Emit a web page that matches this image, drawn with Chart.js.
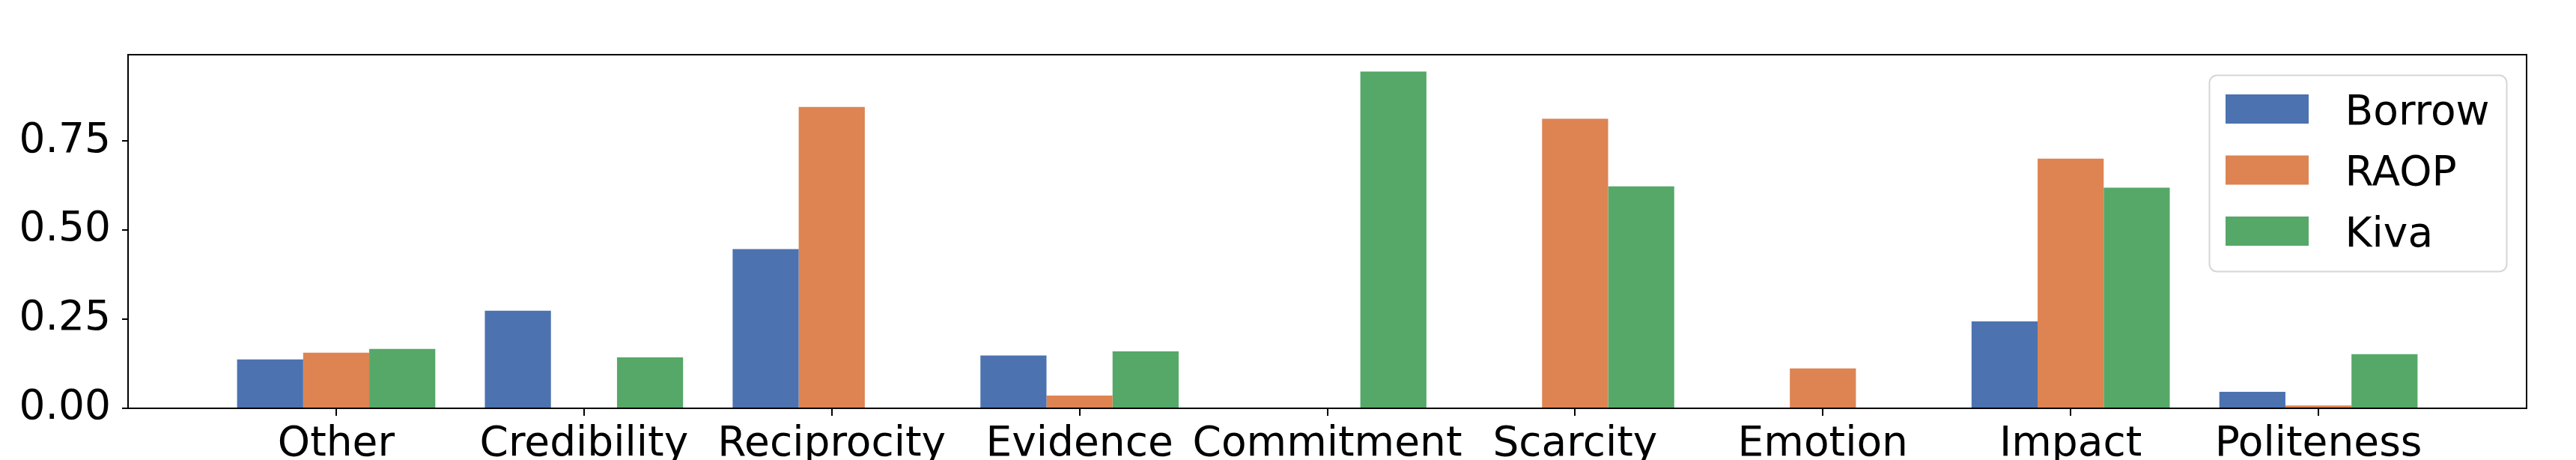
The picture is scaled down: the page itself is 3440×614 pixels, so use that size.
<!DOCTYPE html>
<html>
<head>
<meta charset="utf-8">
<script src="https://cdn.jsdelivr.net/npm/chart.js@4/dist/chart.umd.min.js"></script>
<style>
  html, body { margin: 0; padding: 0; background: #ffffff; }
  #wrap { width: 3440px; height: 614px; }
</style>
</head>
<body>
<div id="wrap"><canvas id="c" width="3440" height="614"></canvas></div>
<script>
const categories = ['Other', 'Credibility', 'Reciprocity', 'Evidence', 'Commitment', 'Scarcity', 'Emotion', 'Impact', 'Politeness'];
const seriesNames = ['Borrow', 'RAOP', 'Kiva'];
const borrow = [0.137, 0.274, 0.447, 0.148, 0, 0, 0, 0.244, 0.046];
const raop   = [0.156, 0, 0.846, 0.036, 0, 0.8125, 0.112, 0.701, 0.008];
const kiva   = [0.1665, 0.143, 0, 0.160, 0.945, 0.623, 0, 0.619, 0.152];
const yTicks = [0, 0.25, 0.5, 0.75];
const yMax = 0.9925;
const xMin = -0.84;
const xMax = 8.84;

const colors = ['#4C72B0', '#DD8452', '#55A868'];
const FONT = 'DejaVu Sans';
const FS = 55;

function toPoints(arr) { return arr.map((v, i) => ({ x: i, y: v })); }

const frame = {
  id: 'frame',
  afterDatasetsDraw(chart) {
    const a = chart.chartArea;
    const ctx = chart.ctx;
    ctx.save();
    ctx.strokeStyle = '#000000';
    ctx.lineWidth = 2;
    ctx.strokeRect(a.left, a.top, a.right - a.left, a.bottom - a.top);
    ctx.restore();
  }
};

const insideLegend = {
  id: 'insideLegend',
  afterDraw(chart) {
    const a = chart.chartArea;
    const ctx = chart.ctx;
    const boxRight = a.right - 26.5;
    const boxTop = a.top + 27.5;
    const boxW = 397;
    const boxH = 262;
    const boxLeft = boxRight - boxW;
    const r = 10;
    ctx.save();
    ctx.beginPath();
    ctx.moveTo(boxLeft + r, boxTop);
    ctx.lineTo(boxLeft + boxW - r, boxTop);
    ctx.arcTo(boxLeft + boxW, boxTop, boxLeft + boxW, boxTop + r, r);
    ctx.lineTo(boxLeft + boxW, boxTop + boxH - r);
    ctx.arcTo(boxLeft + boxW, boxTop + boxH, boxLeft + boxW - r, boxTop + boxH, r);
    ctx.lineTo(boxLeft + r, boxTop + boxH);
    ctx.arcTo(boxLeft, boxTop + boxH, boxLeft, boxTop + boxH - r, r);
    ctx.lineTo(boxLeft, boxTop + r);
    ctx.arcTo(boxLeft, boxTop, boxLeft + r, boxTop, r);
    ctx.closePath();
    ctx.fillStyle = 'rgba(255,255,255,0.8)';
    ctx.fill();
    ctx.strokeStyle = '#d6d6d6';
    ctx.lineWidth = 2;
    ctx.stroke();

    ctx.font = FS + 'px "' + FONT + '"';
    ctx.textBaseline = 'alphabetic';
    ctx.textAlign = 'left';
    chart.data.datasets.forEach((ds, i) => {
      const rowTop = boxTop + 25.5 + i * 81.5;
      ctx.fillStyle = ds.backgroundColor;
      ctx.fillRect(boxLeft + 21.5, rowTop, 111, 39);
      ctx.fillStyle = '#000000';
      ctx.fillText(ds.label, boxLeft + 181, rowTop + 39.5);
    });
    ctx.restore();
  }
};

new Chart(document.getElementById('c'), {
  type: 'bar',
  data: {
    datasets: [
      { label: seriesNames[0], data: toPoints(borrow), backgroundColor: colors[0], borderWidth: 0 },
      { label: seriesNames[1], data: toPoints(raop), backgroundColor: colors[1], borderWidth: 0 },
      { label: seriesNames[2], data: toPoints(kiva), backgroundColor: colors[2], borderWidth: 0 }
    ]
  },
  options: {
    responsive: false,
    maintainAspectRatio: false,
    devicePixelRatio: 1,
    animation: false,
    layout: { padding: { top: 73, right: 66, left: 0, bottom: 0 } },
    datasets: { bar: { categoryPercentage: 0.8, barPercentage: 1.0 } },
    plugins: {
      legend: { display: false },
      tooltip: { enabled: false }
    },
    scales: {
      x: {
        type: 'linear',
        min: xMin,
        max: xMax,
        offset: false,
        afterBuildTicks(scale) { scale.ticks = categories.map((c, i) => ({ value: i })); },
        afterFit(scale) { scale.height = 69; },
        ticks: {
          autoSkip: false,
          maxRotation: 0,
          minRotation: 0,
          padding: 6,
          color: '#000000',
          font: { family: FONT, size: FS },
          callback: (v) => categories[v]
        },
        grid: { offset: false, drawOnChartArea: false, drawTicks: true, tickLength: 10, color: '#000000', lineWidth: 2 },
        border: { display: true, color: '#000000', width: 2 }
      },
      y: {
        min: 0,
        max: yMax,
        afterBuildTicks(scale) { scale.ticks = yTicks.map(v => ({ value: v })); },
        afterFit(scale) { scale.width = 171; },
        ticks: {
          padding: 15,
          color: '#000000',
          font: { family: FONT, size: FS },
          callback: (v) => Number(v).toFixed(2)
        },
        grid: { drawOnChartArea: false, drawTicks: true, tickLength: 8, color: '#000000', lineWidth: 2 },
        border: { display: true, color: '#000000', width: 2 }
      }
    }
  },
  plugins: [frame, insideLegend]
});
</script>
</body>
</html>
